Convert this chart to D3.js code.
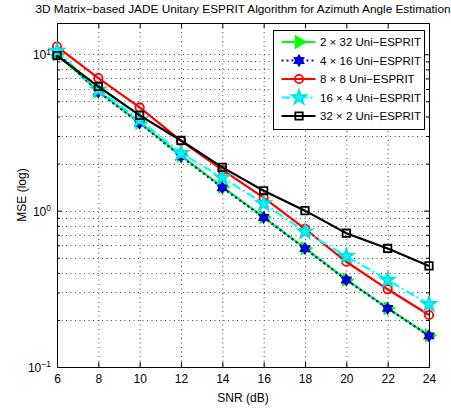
<!DOCTYPE html>
<html>
<head>
<meta charset="utf-8">
<script src="https://cdn.jsdelivr.net/npm/d3@7"></script>
<style>
  body { margin: 0; background: #fff; }
  svg { font-family: "Liberation Sans", Arial, Helvetica, sans-serif; }
</style>
</head>
<body>
<div id="chart"></div>
<script>
// data
const snr = [6, 8, 10, 12, 14, 16, 18, 20, 22, 24];
const mse2x32 = [10.0, 5.8, 3.65, 2.25, 1.42, 0.91, 0.575, 0.362, 0.238, 0.159];
const mse4x16 = [10.3, 5.75, 3.63, 2.22, 1.40, 0.904, 0.572, 0.360, 0.237, 0.158];
const mse8x8 = [11.2, 7.04, 4.57, 2.79, 1.82, 1.21, 0.764, 0.471, 0.314, 0.215];
const mse16x4 = [10.5, 5.93, 3.81, 2.33, 1.63, 1.11, 0.734, 0.511, 0.36, 0.252];
const mse32x2 = [9.82, 6.22, 4.07, 2.81, 1.89, 1.34, 1.0, 0.717, 0.573, 0.443];
const seriesNames = ["2 \u00d7 32 Uni\u2212ESPRIT", "4 \u00d7 16 Uni\u2212ESPRIT", "8 \u00d7 8 Uni\u2212ESPRIT", "16 \u00d7 4 Uni\u2212ESPRIT", "32 \u00d7 2 Uni\u2212ESPRIT"];
const xTicks = [6, 8, 10, 12, 14, 16, 18, 20, 22, 24];
const yMajor = [0.1, 1, 10];
const yExponents = ["\u22121", "0", "1"];

const svgWidth = 451, svgHeight = 408;
const margin = {top: 23, left: 57, right: 22, bottom: 41};
const chartWidth = svgWidth - margin.left - margin.right;
const chartHeight = svgHeight - margin.top - margin.bottom;

const svg = d3.select("#chart").append("svg")
    .attr("width", svgWidth)
    .attr("height", svgHeight);

const chart = svg.append("g")
    .attr("transform", `translate(${margin.left}, ${margin.top})`);

// scales
const xScale = d3.scaleLinear().domain([6, 24]).range([0, chartWidth]);
const yScale = d3.scaleLog().domain([0.1, Math.pow(10, 1.2)]).range([chartHeight, 0]);

const yMinor = [];
[0.1, 1, 10].forEach(d => {
    for (let k = 2; k <= 9; k++) {
        const v = d * k;
        if (v <= yScale.domain()[1]) yMinor.push(v);
    }
});

// grid (dotted)
const grid = chart.append("g").attr("stroke", "#444").attr("stroke-width", 1)
    .attr("stroke-dasharray", "1,3.5");
grid.selectAll(".gx").data(xTicks.slice(1, -1)).enter().append("line")
    .attr("x1", d => xScale(d) + 0.5).attr("x2", d => xScale(d) + 0.5)
    .attr("y1", 0).attr("y2", chartHeight);
grid.selectAll(".gy").data(yMajor.concat(yMinor).filter(d => d > 0.1)).enter().append("line")
    .attr("x1", 0).attr("x2", chartWidth)
    .attr("y1", d => Math.round(yScale(d)) + 0.5).attr("y2", d => Math.round(yScale(d)) + 0.5);

// axes
const xAxis = d3.axisBottom(xScale).tickValues(xTicks).tickSizeInner(-5).tickSizeOuter(0).tickPadding(7);
const xAxisTop = d3.axisTop(xScale).tickValues(xTicks).tickSizeInner(-5).tickSizeOuter(0).tickFormat("");
const yAxis = d3.axisLeft(yScale).tickValues(yMajor).tickSizeInner(-5).tickSizeOuter(0).tickFormat("");
const yAxisRight = d3.axisRight(yScale).tickValues(yMajor).tickSizeInner(-5).tickSizeOuter(0).tickFormat("");
const yMinorL = d3.axisLeft(yScale).tickValues(yMinor).tickSizeInner(-3).tickSizeOuter(0).tickFormat("");
const yMinorR = d3.axisRight(yScale).tickValues(yMinor).tickSizeInner(-3).tickSizeOuter(0).tickFormat("");

const xg = chart.append("g").attr("transform", `translate(0, ${chartHeight})`).call(xAxis);
chart.append("g").call(xAxisTop);
chart.append("g").call(yAxis);
chart.append("g").attr("transform", `translate(${chartWidth}, 0)`).call(yAxisRight);
chart.append("g").call(yMinorL);
chart.append("g").attr("transform", `translate(${chartWidth}, 0)`).call(yMinorR);
chart.selectAll(".domain").remove();
chart.selectAll(".tick line").attr("stroke", "#000");
xg.selectAll("text").attr("font-size", "12px").attr("fill", "#000").attr("font-family", null);

// y tick labels 10^k
const yl = chart.append("g").selectAll("text").data(yMajor).enter().append("text")
    .attr("x", -6)
    .attr("y", d => yScale(d) + 5)
    .attr("text-anchor", "end")
    .attr("font-size", "12px");
yl.append("tspan").text("10");
yl.append("tspan").attr("dy", "-0.55em").attr("font-size", "8.5px").text((d, i) => yExponents[i]);

// frame
chart.append("rect").attr("x", 0.5).attr("y", 0.5)
    .attr("width", chartWidth).attr("height", chartHeight)
    .attr("fill", "none").attr("stroke", "#000").attr("stroke-width", 1);

// marker shapes
function hexagram(r) {
    const p = [];
    for (let t = 0; t < 2; t++) {
        const pts = [];
        for (let i = 0; i < 3; i++) {
            const a = (t * 60 + i * 120 - 90) * Math.PI / 180;
            pts.push([r * Math.cos(a), r * Math.sin(a)]);
        }
        p.push("M" + pts.map(q => q.join(",")).join("L") + "Z");
    }
    return p.join("");
}
const markers = {
    triangle: () => d3.symbol(d3.symbolTriangle, 55)(),
    hexagram: () => hexagram(5),
    circle: () => d3.symbol(d3.symbolCircle, 55)(),
    star: () => d3.symbol(d3.symbolStar, 62)(),
    square: () => d3.symbol(d3.symbolSquare, 55)()
};

const series = [
    {name: seriesNames[0], values: mse2x32, color: "#00ff00", dash: null, marker: "triangle", rotate: 90, fill: "#00ff00", stroke: "#00ff00"},
    {name: seriesNames[1], values: mse4x16, color: "#0000ff", dash: "2,3", marker: "hexagram", rotate: 0, fill: "#0000ff", stroke: "#0000cc"},
    {name: seriesNames[2], values: mse8x8, color: "#ff0000", dash: null, marker: "circle", rotate: 0, fill: "none", stroke: "#ff0000"},
    {name: seriesNames[3], values: mse16x4, color: "#00ffff", dash: "9,3,2,3", marker: "star", rotate: 0, fill: "#00ffff", stroke: "#00e0e0"},
    {name: seriesNames[4], values: mse32x2, color: "#000000", dash: null, marker: "square", rotate: 0, fill: "none", stroke: "#000000"}
];

const line = d3.line().x(d => xScale(d[0])).y(d => yScale(d[1]));

series.forEach(s => {
    const pts = snr.map((x, i) => [x, s.values[i]]);
    const g = chart.append("g");
    g.append("path").datum(pts)
        .attr("d", line)
        .attr("fill", "none")
        .attr("stroke", s.color)
        .attr("stroke-width", 2.2)
        .attr("stroke-dasharray", s.dash);
    g.selectAll("path.m").data(pts).enter().append("path")
        .attr("class", "m")
        .attr("d", markers[s.marker]())
        .attr("transform", d => `translate(${xScale(d[0])}, ${yScale(d[1])}) rotate(${s.rotate})`)
        .attr("fill", s.fill)
        .attr("stroke", s.stroke)
        .attr("stroke-width", 1.8);
});

// legend
const legend = svg.append("g").attr("transform", "translate(273.5, 30.5)");
legend.append("rect").attr("width", 151).attr("height", 99)
    .attr("fill", "#fff").attr("stroke", "#000").attr("stroke-width", 1);
series.forEach((s, i) => {
    const y = 11.5 + i * 18.5;
    const row = legend.append("g").attr("transform", `translate(0, ${y})`);
    row.append("line").attr("x1", 8).attr("x2", 42).attr("y1", 0).attr("y2", 0)
        .attr("stroke", s.color).attr("stroke-width", 2.2)
        .attr("stroke-dasharray", s.dash);
    row.append("path").attr("d", markers[s.marker]())
        .attr("transform", `translate(25.5, 0) rotate(${s.rotate})`)
        .attr("fill", s.fill).attr("stroke", s.stroke).attr("stroke-width", 1.8);
    row.append("text").attr("x", 46.5).attr("y", 4.3)
        .attr("font-size", "11.5px").text(s.name);
});

// title and labels
svg.append("text").attr("x", margin.left + chartWidth / 2).attr("y", 13)
    .attr("text-anchor", "middle").attr("font-size", "11.8px")
    .text("3D Matrix\u2212based JADE Unitary ESPRIT Algorithm for Azimuth Angle Estimation");
svg.append("text").attr("x", margin.left + chartWidth / 2).attr("y", 402)
    .attr("text-anchor", "middle").attr("font-size", "12px").text("SNR (dB)");
svg.append("text").attr("transform", "rotate(-90)")
    .attr("x", -(margin.top + chartHeight / 2)).attr("y", 26)
    .attr("text-anchor", "middle").attr("font-size", "12px").text("MSE (log)");
</script>
</body>
</html>
